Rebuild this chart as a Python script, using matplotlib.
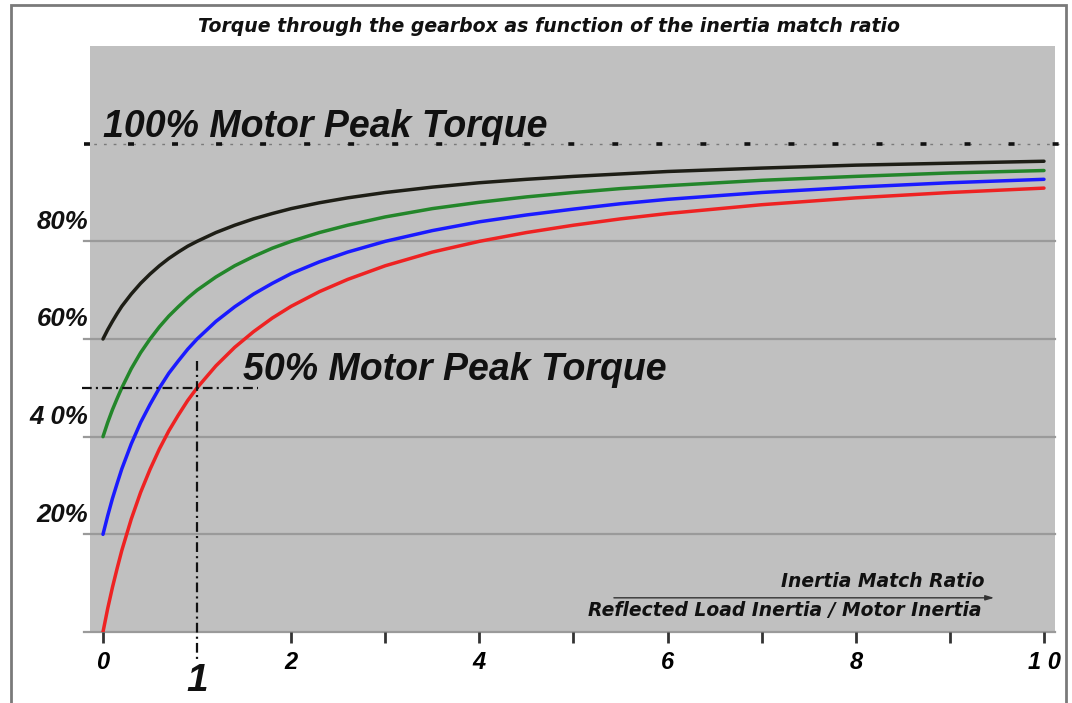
import matplotlib
matplotlib.use("Agg")
import matplotlib.pyplot as plt
from matplotlib.patches import Rectangle

plt.rcParams["lines.scale_dashes"] = False
FONT = ["Liberation Sans", "DejaVu Sans"]
WIDE = ["DejaVu Sans"]

# Inertia match ratio (reflected load inertia / motor inertia)
ratio = [0, 0.05, 0.1, 0.15, 0.2, 0.3, 0.4, 0.5, 0.6, 0.7, 0.8, 0.9, 1.0, 1.2, 1.4,
         1.6, 1.8, 2.0, 2.3, 2.6, 3.0, 3.5, 4, 4.5, 5, 5.5, 6, 7, 8, 9, 10]

# Torque through the gearbox, % of motor peak torque
torque_red = [0, 4.8, 9.1, 13.0, 16.7, 23.1, 28.6, 33.3, 37.5, 41.2, 44.4, 47.4, 50,
              54.5, 58.3, 61.5, 64.3, 66.7, 69.7, 72.2, 75, 77.8, 80, 81.8, 83.3, 84.6,
              85.7, 87.5, 88.9, 90, 90.9]
torque_blue = [20, 23.8, 27.3, 30.4, 33.4, 38.5, 42.9, 46.6, 50, 53.0, 55.5, 57.9, 60,
               63.6, 66.6, 69.2, 71.4, 73.4, 75.8, 77.8, 80, 82.2, 84, 85.4, 86.6, 87.7,
               88.6, 90, 91.1, 92, 92.7]
torque_green = [40, 42.9, 45.5, 47.8, 50, 53.9, 57.2, 60, 62.5, 64.7, 66.6, 68.4, 70,
                72.7, 75, 76.9, 78.6, 80, 81.8, 83.3, 85, 86.7, 88, 89.1, 90, 90.8,
                91.4, 92.5, 93.3, 94, 94.5]
torque_black = [60, 61.9, 63.6, 65.2, 66.7, 69.2, 71.4, 73.3, 75, 76.5, 77.8, 79, 80,
                81.8, 83.3, 84.6, 85.7, 86.7, 87.9, 88.9, 90, 91.1, 92, 92.7, 93.3, 93.8,
                94.3, 95, 95.6, 96, 96.4]

series = [
    (torque_red, "#ee2222"),
    (torque_blue, "#1a1aff"),
    (torque_green, "#23862a"),
    (torque_black, "#1e1e16"),
]

x_ticks = [0, 2, 4, 6, 8, 10]
x_tick_labels = ["0", "2", "4", "6", "8", "1 0"]
x_minor = [3, 5, 7, 9]
y_levels = [20, 40, 60, 80]
y_labels = ["20%", "4 0%", "60%", "80%"]

fig = plt.figure(figsize=(10.72, 7.03), dpi=100, facecolor="white")

# outer frame
fig.patches.append(Rectangle((11 / 1072, -0.02), (1066 - 11) / 1072, 1 - 5 / 703 + 0.02,
                             transform=fig.transFigure, fill=False,
                             edgecolor="#7a7a7a", linewidth=2))

ax = fig.add_axes([90 / 1072, 1 - 632 / 703, (1055 - 90) / 1072, (632 - 46) / 703])
ax.set_facecolor("#c0c0c0")
ax.set_xlim(-0.138, 10.117)
ax.set_ylim(0, 120)
for s in ax.spines.values():
    s.set_visible(False)

# horizontal grid lines
for lv in [0] + y_levels:
    ax.plot([-0.2, 10.117], [lv, lv], color="#9a9a9a", lw=1.6, clip_on=False, zorder=1)

# 100 % reference line
ax.plot([-0.2, 10.24], [100, 100], color="#7a7a7a", lw=1.0,
        linestyle=(0, (2, 5)), clip_on=False, zorder=2)
ax.plot([-0.2, 10.24], [100, 100], color="#111111", lw=2.6,
        linestyle=(0, (4.3, 27.4)), clip_on=False, zorder=2)

# curves
for vals, col in series:
    ax.plot(ratio, vals, color=col, lw=2.5, zorder=4, solid_capstyle="round")

# 50 % marker at ratio 1
dash_dot = (0, (7, 3, 1.5, 3))
ax.plot([-0.22, 1.65], [50, 50], color="#111111", lw=1.6, linestyle=dash_dot,
        clip_on=False, zorder=5)
ax.plot([1, 1], [55.5, -6.2], color="#111111", lw=1.6, linestyle=dash_dot,
        clip_on=False, zorder=5)

# x ticks
ax.set_xticks(x_ticks)
ax.set_xticklabels(x_tick_labels, fontfamily=FONT, fontweight="bold",
                   fontstyle="italic", fontsize=17)
ax.set_xticks(x_minor, minor=True)
ax.tick_params(axis="x", which="both", direction="out", length=8, width=2,
               color="#333333", pad=6)
ax.set_yticks([])
ax.text(1, -6.4, "1", ha="center", va="top", fontfamily=FONT, fontweight="bold",
        fontstyle="italic", fontsize=28, color="#111111")

# y labels sit just above their grid lines
for lv, lab in zip(y_levels, y_labels):
    ax.text(-0.16, lv + 4, lab, ha="right", va="center", fontfamily=FONT,
            fontweight="bold", fontstyle="italic", fontsize=18.5, color="#111111",
            clip_on=False)

txt = dict(fontweight="bold", fontstyle="italic", color="#111111")
ax.text(0.0, 101.4, "100% Motor Peak Torque", ha="left", va="baseline", fontsize=27,
        fontfamily=FONT, **txt)
ax.text(1.49, 51.6, "50% Motor Peak Torque", ha="left", va="baseline", fontsize=27,
        fontfamily=FONT, **txt)

# axis description with arrow
ax.annotate("", xy=(9.5, 7.0), xytext=(5.4, 7.0),
            arrowprops=dict(arrowstyle="-|>,head_length=0.5,head_width=0.15",
                            color="#333333", lw=1.0))
ax.text(9.37, 10.3, "Inertia Match Ratio", ha="right", va="center", fontsize=13.5,
        fontfamily=WIDE, **txt)
ax.text(9.34, 4.4, "Reflected Load Inertia / Motor Inertia", ha="right", va="center",
        fontsize=13.5, fontfamily=WIDE, **txt)

fig.text(549 / 1072, 1 - 27 / 703,
         "Torque through the gearbox as function of the inertia match ratio",
         ha="center", va="center", fontsize=13.6, fontfamily=WIDE, **txt)

fig.savefig("out.png", dpi=100, facecolor="white")
